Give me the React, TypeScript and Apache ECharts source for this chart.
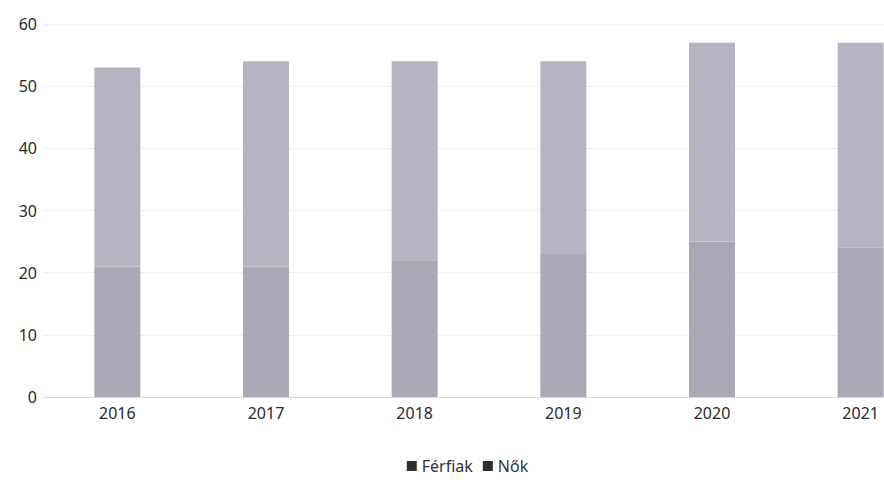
import React, { useEffect, useRef } from "react";
import * as echarts from "echarts";

const categories = ["2016", "2017", "2018", "2019", "2020", "2021"];
const ferfiak = [21, 21, 22, 23, 25, 24];
const nok = [32, 33, 32, 31, 32, 33];
const seriesNames = ["Férfiak", "Nők"];
const yTicks = { min: 0, max: 60, interval: 10 };

export default function App() {
  const ref = useRef<HTMLDivElement>(null);
  useEffect(() => {
    document.body.style.margin = "0";
    const chart = echarts.init(ref.current!, null, { renderer: "svg" });
    const font = "'Noto Sans', 'Open Sans', sans-serif";
    chart.setOption({
      animation: false,
      backgroundColor: "#ffffff",
      grid: { left: 43, right: 0, top: 24, bottom: 85, containLabel: false },
      legend: {
        bottom: 3,
        left: "center",
        itemWidth: 10,
        itemHeight: 10,
        itemGap: 10,
        icon: "rect",
        textStyle: { fontFamily: font, fontSize: 16, color: "#333" },
        data: seriesNames.map((n) => ({ name: n, itemStyle: { color: "#2e2e2e" } })),
      },
      xAxis: {
        type: "category",
        data: categories,
        axisLine: { show: true, lineStyle: { color: "#d9d9d9" } },
        axisTick: { show: false },
        axisLabel: { fontFamily: font, fontSize: 16, color: "#2a2a2a", margin: 8 },
      },
      yAxis: {
        type: "value",
        min: yTicks.min,
        max: yTicks.max,
        interval: yTicks.interval,
        axisLine: { show: false },
        axisTick: { show: false },
        splitLine: { lineStyle: { color: "#eeeeee" } },
        axisLabel: { fontFamily: font, fontSize: 16, color: "#2a2a2a", margin: 6 },
      },
      series: [
        {
          name: seriesNames[0],
          type: "bar",
          stack: "total",
          barWidth: 46,
          data: ferfiak,
          itemStyle: { color: "#a9a9b5" },
        },
        {
          name: seriesNames[1],
          type: "bar",
          stack: "total",
          barWidth: 46,
          data: nok,
          itemStyle: { color: "#b5b5c1" },
        },
      ],
    });
    return () => chart.dispose();
  }, []);
  return (
    <div style={{ width: 884, height: 482, overflow: "hidden", position: "relative" }}>
      <div ref={ref} style={{ width: 935, height: 482 }} />
    </div>
  );
}
